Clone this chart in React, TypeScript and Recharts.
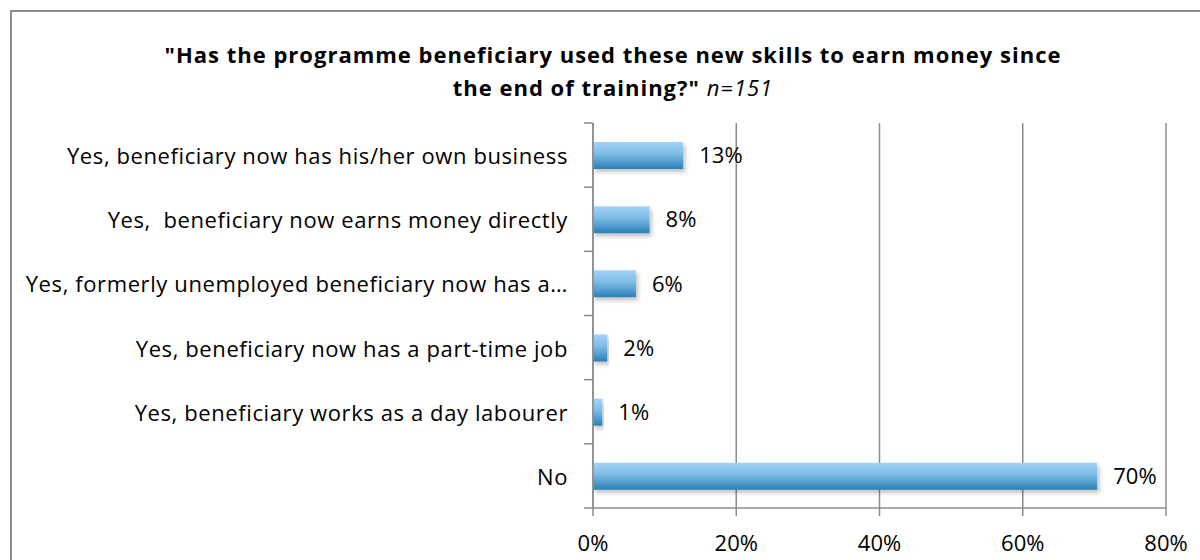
import React from "react";
import { BarChart, Bar, XAxis, YAxis, CartesianGrid, LabelList } from "recharts";

const categories = [
  "Yes, beneficiary now has his/her own business",
  "Yes,  beneficiary now earns money directly",
  "Yes, formerly unemployed beneficiary now has a…",
  "Yes, beneficiary now has a part-time job",
  "Yes, beneficiary works as a day labourer",
  "No",
];
const values = [12.6, 7.9, 6.0, 2.0, 1.3, 70.4];
const valueLabels = ["13%", "8%", "6%", "2%", "1%", "70%"];
const xTicks = [0, 20, 40, 60, 80];

const data = categories.map((name, i) => ({ name, value: values[i], label: valueLabels[i] }));

const FONT = "'Open Sans', Lato, sans-serif";
const GRID = "#8c8c8c";
const TOP = 123;
const BOTTOM = 508;
const BAND = (BOTTOM - TOP) / categories.length;

const CatTick = (props: any) => {
  const { x, y, payload, index } = props;
  return (
    <g>
      <text
        x={x - 25}
        y={y}
        textAnchor="end"
        dominantBaseline="central"
        fontFamily={FONT}
        fontSize={22}
        letterSpacing={0.6}
        fill="#000"
        style={{ whiteSpace: "pre" }}
      >
        {payload.value}
      </text>
      <line x1={x - 9} x2={x} y1={y - BAND / 2} y2={y - BAND / 2} stroke={GRID} strokeWidth={1.5} />
      {index === categories.length - 1 && (
        <line x1={x - 9} x2={x} y1={y + BAND / 2} y2={y + BAND / 2} stroke={GRID} strokeWidth={1.5} />
      )}
    </g>
  );
};

export default function App() {
  return (
    <div style={{ position: "absolute", left: 0, top: 0, width: 1200, height: 560, overflow: "hidden", background: "#fff" }}>
      <div
        style={{
          position: "absolute",
          left: 10,
          top: 10,
          width: 1220,
          height: 600,
          border: "2px solid #8c8c8c",
          boxSizing: "border-box",
        }}
      />
      <div
        style={{
          position: "absolute",
          left: 0,
          top: 38,
          width: 1226,
          textAlign: "center",
          fontFamily: FONT,
          fontSize: 22,
          letterSpacing: 1,
          lineHeight: "33px",
          fontWeight: "bold",
          color: "#000",
        }}
      >
        <div>"Has the programme beneficiary used these new skills to earn money since</div>
        <div>
          the end of training?" <span style={{ fontWeight: "normal", fontStyle: "italic" }}>n=151</span>
        </div>
      </div>
      <div style={{ position: "absolute", left: 0, top: 0 }}>
        <BarChart
          width={1200}
          height={560}
          data={data}
          layout="vertical"
          margin={{ top: TOP, bottom: 560 - BOTTOM - 30, left: 0, right: 34 }}
          barCategoryGap={0}
        >
          <defs>
            <linearGradient id="barGrad" x1="0" y1="0" x2="0" y2="1">
              <stop offset="0%" stopColor="#a3d3f6" />
              <stop offset="45%" stopColor="#7bbbe6" />
              <stop offset="100%" stopColor="#2a7fb2" />
            </linearGradient>
            <filter id="shadow" x="-5%" y="-30%" width="115%" height="180%">
              <feDropShadow dx="2" dy="3" stdDeviation="2" floodColor="#000" floodOpacity="0.25" />
            </filter>
          </defs>
          <CartesianGrid horizontal={false} vertical={true} stroke={GRID} strokeWidth={1.5} />
          <XAxis
            type="number"
            domain={[0, 80]}
            ticks={xTicks}
            tickFormatter={(v: number) => `${v}%`}
            axisLine={{ stroke: GRID, strokeWidth: 1.5 }}
            tickLine={{ stroke: GRID, strokeWidth: 1.5 }}
            tickSize={8}
            tickMargin={19}
            height={30}
            tick={{ fontFamily: FONT, fontSize: 22, fill: "#000" }}
            interval={0}
          />
          <YAxis
            type="category"
            dataKey="name"
            width={593}
            axisLine={{ stroke: GRID, strokeWidth: 1.5 }}
            tickLine={false}
            tickSize={0}
            tickMargin={0}
            tick={<CatTick />}
            interval={0}
          />
          <Bar dataKey="value" barSize={27} fill="url(#barGrad)" filter="url(#shadow)" isAnimationActive={false}>
            <LabelList dataKey="label" position="right" offset={16} fontFamily={FONT} fontSize={22} fill="#000" />
          </Bar>
        </BarChart>
      </div>
    </div>
  );
}
